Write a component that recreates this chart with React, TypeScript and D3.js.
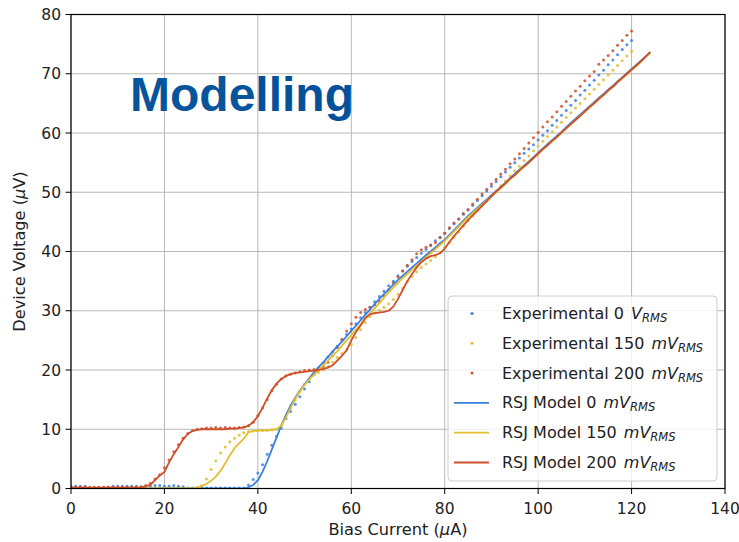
import React from 'react';
import * as d3 from 'd3';

const xTicks = [0, 20, 40, 60, 80, 100, 120, 140];
const yTicks = [0, 10, 20, 30, 40, 50, 60, 70, 80];

// Bias current sample grids (µA)
const expCurrent = d3.range(0, 121, 1);
const modelCurrent = d3.range(0, 125, 1);

// Experimental device voltages (µV)
const expV0 = [
  0.4, 0.4, 0.4, 0.4, 0.1, 0.1, 0.1, 0.1, 0.2, 0.4,
  0.4, 0.4, 0.4, 0.4, 0.4, 0.3, 0.2, 0.4, 0.5, 0.5,
  0.4, 0.4, 0.5, 0.4, 0.3, 0.1, 0.1, 0.1, 0.1, 0.1,
  0.1, 0.1, 0.1, 0.1, 0.1, 0.1, 0.1, 0.1, 0.6, 1.5,
  2.6, 4.0, 5.8, 7.3, 8.8, 10.2, 11.8, 13.0, 14.2, 15.5,
  16.8, 18.0, 19.2, 20.2, 21.2, 22.2, 23.1, 24.0, 25.0, 26.0,
  26.9, 27.8, 28.8, 29.7, 30.6, 31.5, 32.4, 33.3, 34.2, 35.0,
  35.9, 36.7, 37.5, 38.3, 39.0, 39.7, 40.4, 41.1, 41.8, 42.4,
  43.1, 43.9, 44.7, 45.5, 46.3, 47.0, 47.8, 48.6, 49.4, 50.2,
  51.0, 51.8, 52.6, 53.4, 54.2, 55.0, 55.8, 56.6, 57.3, 58.0,
  58.8, 59.6, 60.4, 61.3, 62.1, 63.0, 63.8, 64.7, 65.5, 66.4,
  67.2, 68.1, 68.9, 69.8, 70.6, 71.5, 72.3, 73.2, 74.1, 74.9,
  75.6,
];
const expV150 = [
  0.05, 0.05, 0.05, 0.05, 0.05, 0.05, 0.05, 0.05, 0.05, 0.05,
  0.05, 0.05, 0.05, 0.05, 0.05, 0.05, 0.05, 0.05, 0.05, 0.05,
  0.05, 0.05, 0.05, 0.05, 0.05, 0.05, 0.05, 0.2, 0.5, 1.6,
  3.2, 4.7, 6.0, 7.0, 7.9, 8.5, 9.0, 9.4, 9.6, 9.7,
  9.7, 9.8, 9.8, 9.9, 10.0, 10.6, 12.0, 13.5, 15.0, 16.4,
  17.6, 18.5, 19.2, 19.6, 20.0, 20.6, 21.3, 22.1, 22.8, 23.5,
  24.3, 25.5, 26.8, 28.0, 29.0, 29.6, 30.1, 30.6, 31.2, 31.9,
  32.8, 33.8, 35.0, 35.8, 36.6, 37.3, 37.9, 38.5, 39.1, 39.9,
  40.7, 41.5, 42.4, 43.3, 44.3, 45.2, 46.0, 46.9, 47.7, 48.5,
  49.4, 50.2, 51.1, 51.9, 52.8, 53.6, 54.4, 55.3, 56.1, 57.0,
  57.8, 58.6, 59.4, 60.2, 61.0, 61.8, 62.6, 63.4, 64.2, 65.0,
  65.8, 66.6, 67.4, 68.2, 69.0, 69.8, 70.6, 71.4, 72.2, 73.0,
  73.8,
];
const expV200 = [
  0.2, 0.2, 0.2, 0.2, 0.2, 0.2, 0.2, 0.2, 0.2, 0.2,
  0.2, 0.2, 0.2, 0.2, 0.2, 0.3, 0.5, 0.9, 1.6, 2.3,
  3.5, 4.8, 6.2, 7.4, 8.5, 9.3, 9.8, 10.0, 10.1, 10.2,
  10.2, 10.3, 10.2, 10.3, 10.2, 10.2, 10.3, 10.4, 10.6, 11.2,
  12.3, 13.6, 15.0, 16.5, 17.6, 18.5, 19.0, 19.3, 19.5, 19.7,
  19.9, 20.0, 20.1, 20.3, 20.6, 21.3, 22.4, 23.8, 25.2, 26.6,
  27.8, 28.9, 29.7, 30.2, 30.6, 31.0, 31.6, 32.5, 33.6, 34.7,
  35.7, 36.7, 37.7, 38.6, 39.6, 40.3, 40.7, 41.0, 41.5, 42.3,
  43.1, 44.0, 44.8, 45.5, 46.4, 47.1, 48.0, 48.8, 49.7, 50.5,
  51.4, 52.2, 53.1, 53.9, 54.8, 55.6, 56.5, 57.4, 58.3, 59.2,
  60.1, 61.0, 61.9, 62.7, 63.6, 64.5, 65.3, 66.2, 67.1, 67.9,
  68.8, 69.6, 70.4, 71.6, 72.3, 73.1, 73.9, 74.8, 75.6, 76.5,
  77.2,
];

// RSJ model device voltages (µV)
const modelV0 = [
  0, 0, 0, 0, 0, 0, 0, 0, 0, 0,
  0, 0, 0, 0, 0, 0, 0, 0, 0, 0,
  0, 0, 0, 0, 0, 0, 0, 0, 0, 0,
  0, 0, 0, 0, 0, 0, 0, 0, 0.2, 0.6,
  1.4, 2.8, 4.6, 6.6, 8.6, 10.6, 12.4, 14.0, 15.3, 16.5,
  17.6, 18.6, 19.6, 20.5, 21.3, 22.2, 23.1, 24.0, 24.8, 25.7,
  26.6, 27.5, 28.4, 29.3, 30.2, 31.1, 32.0, 32.8, 33.6, 34.4,
  35.2, 35.9, 36.6, 37.3, 38.0, 38.7, 39.4, 40.0, 40.7, 41.4,
  42.0, 42.8, 43.6, 44.4, 45.2, 46.0, 46.7, 47.4, 48.1, 48.8,
  49.5, 50.2, 50.9, 51.6, 52.4, 53.1, 53.8, 54.5, 55.2, 55.9,
  56.7, 57.4, 58.1, 58.8, 59.5, 60.2, 61.0, 61.7, 62.4, 63.1,
  63.8, 64.5, 65.2, 65.9, 66.6, 67.3, 68.0, 68.7, 69.4, 70.1,
  70.8, 71.5, 72.2, 72.9, 73.6,
];
const modelV150 = [
  0, 0, 0, 0, 0, 0, 0, 0, 0, 0,
  0, 0, 0, 0, 0, 0, 0, 0, 0, 0,
  0, 0, 0, 0, 0, 0, 0, 0.1, 0.4, 0.8,
  1.3, 2.0, 3.0, 4.2, 5.6, 6.8, 7.6, 8.4, 9.5, 9.7,
  9.8, 9.8, 9.8, 9.9, 10.0, 10.6, 12.0, 13.6, 15.1, 16.4,
  17.5, 18.4, 19.2, 20.0, 20.8, 21.6, 22.4, 23.2, 24.1, 25.0,
  25.9, 26.8, 27.7, 28.6, 29.5, 30.4, 31.3, 32.2, 33.1, 33.9,
  34.7, 35.5, 36.2, 36.9, 37.6, 38.3, 39.0, 39.7, 40.4, 41.1,
  41.8, 42.6, 43.4, 44.2, 45.0, 45.8, 46.5, 47.2, 47.9, 48.6,
  49.3, 50.0, 50.7, 51.4, 52.2, 52.9, 53.6, 54.3, 55.0, 55.7,
  56.5, 57.2, 57.9, 58.6, 59.3, 60.0, 60.8, 61.5, 62.2, 62.9,
  63.6, 64.3, 65.0, 65.7, 66.4, 67.1, 67.8, 68.5, 69.2, 69.9,
  70.6, 71.3, 72.0, 72.8, 73.5,
];
const modelV200 = [
  0.15, 0.15, 0.15, 0.15, 0.15, 0.15, 0.15, 0.15, 0.15, 0.15,
  0.15, 0.15, 0.15, 0.15, 0.15, 0.15, 0.4, 0.6, 1.4, 2.2,
  2.8, 4.4, 5.8, 7.0, 8.3, 9.2, 9.7, 9.9, 10.0, 10.0,
  10.0, 10.0, 10.0, 10.0, 10.1, 10.1, 10.2, 10.3, 10.6, 11.2,
  12.2, 13.6, 15.2, 16.6, 17.7, 18.5, 19.0, 19.3, 19.5, 19.6,
  19.7, 19.8, 19.9, 20.0, 20.2, 20.4, 20.8, 21.6, 22.4, 23.3,
  25.0, 26.4, 27.5, 28.8, 29.4, 29.6, 29.7, 29.8, 30.0, 30.7,
  32.0, 33.5, 35.0, 36.2, 37.3, 38.2, 38.8, 39.2, 39.4, 39.7,
  40.5, 41.6, 42.6, 43.5, 44.4, 45.3, 46.1, 46.9, 47.7, 48.5,
  49.3, 50.1, 50.8, 51.5, 52.3, 52.9, 53.7, 54.4, 55.0, 55.8,
  56.5, 57.3, 57.9, 58.7, 59.3, 60.1, 60.8, 61.5, 62.2, 62.9,
  63.6, 64.4, 65.0, 65.8, 66.4, 67.2, 67.8, 68.6, 69.3, 70.0,
  70.7, 71.4, 72.1, 72.9, 73.7,
];

const legendPrefixes = ['Experimental 0 ', 'Experimental 150 ', 'Experimental 200 ', 'RSJ Model 0 ', 'RSJ Model 150 ', 'RSJ Model 200 '];
const legendUnits = ['V', 'mV', 'mV', 'mV', 'mV', 'mV'];

const BLUE = '#3a7fe0';
const GOLD = '#e2bd2c';
const RED = '#d04e28';
const FONT = '"DejaVu Sans", sans-serif';

export default function App() {
  const W = 739, H = 542;
  const x = d3.scaleLinear().domain([0, 140]).range([71, 725]);
  const y = d3.scaleLinear().domain([0, 80]).range([488.5, 14.5]);

  const expSeries = [
    { v: expV0, c: BLUE },
    { v: expV150, c: GOLD },
    { v: expV200, c: RED },
  ];
  const modelSeries = [
    { v: modelV0, c: BLUE },
    { v: modelV150, c: GOLD },
    { v: modelV200, c: RED },
  ];

  const line = d3.line<number>()
    .x((_, i) => x(modelCurrent[i]))
    .y((d) => y(d));

  const legendColors = [BLUE, GOLD, RED, BLUE, GOLD, RED];
  const legX = 448, legY = 296, legW = 269, legH = 185;

  return (
    <svg width={W} height={H} style={{ position: 'absolute', left: 0, top: 0, background: '#fff' }}
      fontFamily={FONT}>
      <rect x={0} y={0} width={W} height={H} fill="#fff" />
      <defs>
        <clipPath id="plot">
          <rect x={71} y={14.5} width={654} height={474} />
        </clipPath>
      </defs>
      {/* grid */}
      <g stroke="#b8b8b8" strokeWidth={1}>
        {xTicks.map((t) => (
          <line key={'gx' + t} x1={x(t)} x2={x(t)} y1={y(0)} y2={y(80)} />
        ))}
        {yTicks.map((t) => (
          <line key={'gy' + t} x1={x(0)} x2={x(140)} y1={y(t)} y2={y(t)} />
        ))}
      </g>
      {/* title */}
      <text x={130} y={111} fontFamily='"Liberation Sans", Arial, sans-serif' fontWeight="bold"
        fontSize={48} fill="#06549b">Modelling</text>
      <g clipPath="url(#plot)">
        {expSeries.map((s, si) => (
          <g key={'e' + si} fill={s.c} opacity={0.85}>
            {s.v.map((v, i) => (
              <circle key={i} cx={x(expCurrent[i])} cy={y(v)} r={1.5} />
            ))}
          </g>
        ))}
        {modelSeries.map((s, si) => (
          <path key={'m' + si} d={line(s.v) || ''} fill="none" stroke={s.c} strokeWidth={1.8}
            strokeLinejoin="round" />
        ))}
      </g>
      {/* spines */}
      <rect x={71} y={14.5} width={654} height={474} fill="none" stroke="#000" strokeWidth={1.2} />
      {/* ticks */}
      <g stroke="#000" strokeWidth={1}>
        {xTicks.map((t) => (
          <line key={'tx' + t} x1={x(t)} x2={x(t)} y1={488.5} y2={494} />
        ))}
        {yTicks.map((t) => (
          <line key={'ty' + t} x1={65.5} x2={71} y1={y(t)} y2={y(t)} />
        ))}
      </g>
      <g fontSize={15.5} fill="#222">
        {xTicks.map((t) => (
          <text key={'lx' + t} x={x(t)} y={514} textAnchor="middle">{t}</text>
        ))}
        {yTicks.map((t) => (
          <text key={'ly' + t} x={61} y={y(t) + 5.5} textAnchor="end">{t}</text>
        ))}
      </g>
      <text x={398} y={535} textAnchor="middle" fontSize={16.2} fill="#222">Bias Current (<tspan fontStyle="italic">μ</tspan>A)</text>
      <text transform={`translate(25, ${(14.5 + 488.5) / 2}) rotate(-90)`} textAnchor="middle" fontSize={16.2} fill="#222">
        Device Voltage (<tspan fontStyle="italic">μ</tspan>V)
      </text>
      {/* legend */}
      <rect x={legX} y={legY} width={legW} height={legH} rx={4} fill="#fff" fillOpacity={0.8}
        stroke="#cccccc" strokeWidth={1} />
      {legendPrefixes.map((p, i) => {
        const cy = legY + 17.5 + i * 29.8;
        return (
          <g key={'leg' + i}>
            {i < 3 ? (
              <circle cx={472} cy={cy} r={1.5} fill={legendColors[i]} />
            ) : (
              <line x1={454} x2={489} y1={cy} y2={cy} stroke={legendColors[i]} strokeWidth={1.8} />
            )}
            <text x={502} y={cy + 5.5} fontSize={16} fill="#222">
              {p}
              <tspan fontStyle="italic" dx={2}>{legendUnits[i]}</tspan>
              <tspan fontStyle="italic" fontSize={11.5} dy={3}>RMS</tspan>
            </text>
          </g>
        );
      })}
    </svg>
  );
}
